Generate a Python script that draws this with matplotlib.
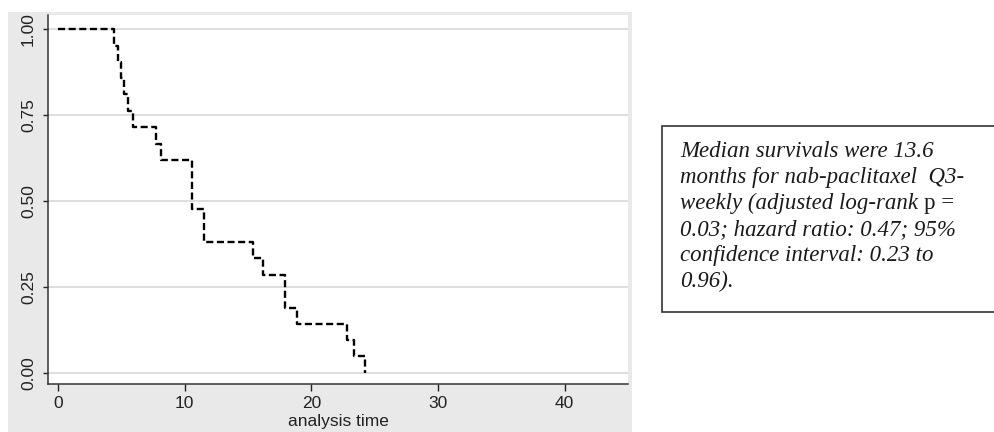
import matplotlib
matplotlib.use('Agg')
import matplotlib.pyplot as plt
from matplotlib.patches import Rectangle

# Kaplan-Meier step points (time, survival after the drop)
step_times = [0, 4.45, 4.7, 4.95, 5.2, 5.5, 5.9, 7.7, 8.1, 10.6, 11.5,
              15.4, 16.2, 17.9, 18.9, 22.8, 23.4, 24.2]
survival = [1.0, 0.952, 0.905, 0.857, 0.810, 0.762, 0.714, 0.667, 0.619,
            0.476, 0.381, 0.333, 0.286, 0.190, 0.143, 0.095, 0.048, 0.0]

x_ticks = [0, 10, 20, 30, 40]
y_ticks = [0.0, 0.25, 0.50, 0.75, 1.00]
x_label = 'analysis time'

note_lines = ['Median survivals were 13.6',
              'months for nab-paclitaxel  Q3-',
              'weekly (adjusted log-rank ',
              '0.03; hazard ratio: 0.47; 95%',
              'confidence interval: 0.23 to',
              '0.96).']
note_upright = 'p ='  # the p in line 3 is set upright

plt.rcParams['font.family'] = ['Liberation Sans', 'DejaVu Sans']

W, H = 995, 432
fig = plt.figure(figsize=(W / 100.0, H / 100.0), dpi=100, facecolor='white')

# grey graph region (Stata style)
fig.patches.append(Rectangle((8.0 / W, 0), (632 - 8.0) / W, 1 - 12.0 / H,
                             transform=fig.transFigure, facecolor='#e9e9e9',
                             edgecolor='none', zorder=-5))

ax = fig.add_axes([48.0 / W, 1 - 384.0 / H, (628 - 48.0) / W, (384 - 15.0) / H])
ax.set_zorder(2)
ax.set_facecolor('white')

for yv in y_ticks:
    ax.axhline(yv, color='#d4d4d4', lw=1.1, zorder=1)

ax.step(step_times, survival, where='post', color='black', lw=1.7,
        dashes=(3.0, 1.5), zorder=3)

ax.set_xlim(-0.8, 45)
ax.set_ylim(-0.032, 1.041)
ax.set_xticks(x_ticks)
ax.set_yticks(y_ticks)
ax.set_yticklabels(['%.2f' % v for v in y_ticks], rotation=90, va='center')

ax.tick_params(axis='y', direction='out', length=3.6, width=1.0, pad=5,
               colors='#222222', labelsize=12.5)
ax.tick_params(axis='x', direction='out', length=5, width=1.0, pad=4,
               colors='#222222', labelsize=12.5)
ax.set_xlabel(x_label, fontsize=12.5, color='#222222', labelpad=1.5)

for side in ['top', 'right']:
    ax.spines[side].set_visible(False)
for side in ['left', 'bottom']:
    ax.spines[side].set_linewidth(1.1)
    ax.spines[side].set_color('#333333')

# note box on the right, running past the edge of the picture
fig.patches.append(Rectangle((662.0 / W, 1 - 312.0 / H), (W + 10 - 662.0) / W,
                             (312 - 126.0) / H, transform=fig.transFigure,
                             facecolor='white', edgecolor='#333333', lw=1.2,
                             zorder=1))

note_size = 16.5
note_font = {'family': 'Liberation Serif', 'style': 'italic', 'size': note_size}
x0 = 680.0 / W
base0 = 157.0
step = 26.0
for i, line in enumerate(note_lines):
    t = fig.text(x0, 1 - (base0 + i * step) / H, line, fontdict=note_font,
                 color='#1a1a1a', va='baseline', ha='left')
    if i == 2:
        fig.texts.append(plt.Annotation(note_upright, xy=(1, 0), xycoords=t,
                                        va='bottom', ha='left',
                                        family='Liberation Serif', size=note_size,
                                        color='#1a1a1a'))
        fig.texts[-1].set_figure(fig)

fig.savefig('out.png', dpi=100, facecolor='white')
